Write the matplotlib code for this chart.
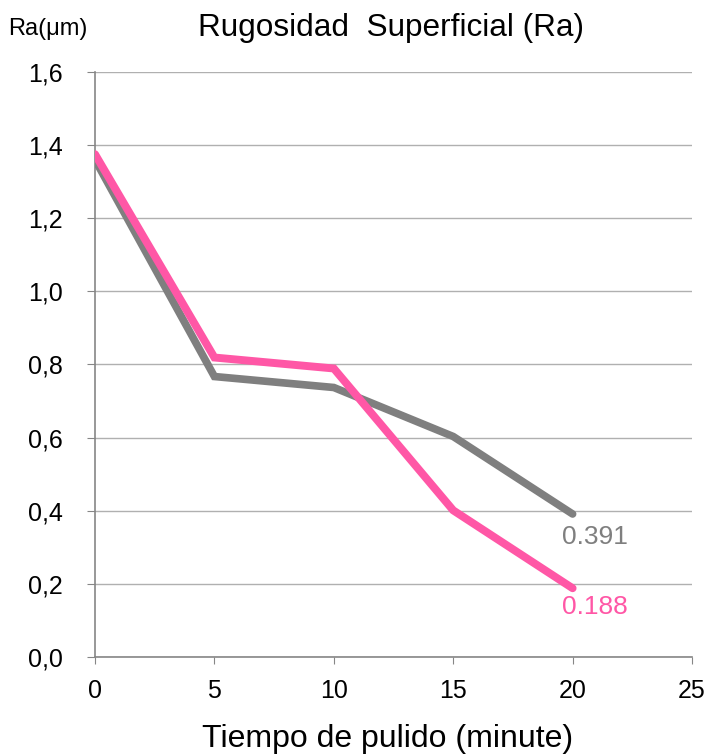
import matplotlib
matplotlib.use("Agg")
import matplotlib.pyplot as plt

plt.rcParams["font.family"] = ["Liberation Sans", "DejaVu Sans"]

tiempo = [0, 5, 10, 15, 20]
ra_gris = [1.36, 0.767, 0.737, 0.603, 0.391]
ra_rosa = [1.375, 0.819, 0.789, 0.401, 0.188]
GRIS = "#7f7f7f"; ROSA = "#ff57a6"

fig = plt.figure(figsize=(7.07, 7.56), dpi=100)
ax = fig.add_axes([0.1344, 0.131, 0.8444, 0.7738])

ax.plot(tiempo, ra_gris, color=GRIS, lw=5.5, solid_capstyle="round", solid_joinstyle="miter", zorder=3)
ax.plot(tiempo, ra_rosa, color=ROSA, lw=5.7, solid_capstyle="round", solid_joinstyle="miter", zorder=4)

ax.set_xlim(0, 25); ax.set_ylim(0, 1.6)
ax.set_xticks([0, 5, 10, 15, 20, 25])
ax.set_yticks([i * 0.2 for i in range(9)])
ax.set_yticklabels([f"{i*0.2:.1f}".replace(".", ",") for i in range(9)])
ax.grid(axis="y", color="#b0b0b0", lw=1)
ax.set_axisbelow(True)
for s in ("top", "right"):
    ax.spines[s].set_visible(False)
for s in ("left", "bottom"):
    ax.spines[s].set_color("#868686"); ax.spines[s].set_linewidth(1.2)
ax.tick_params(axis="y", length=6, color="#868686", labelsize=18, pad=17)
ax.tick_params(axis="x", length=5, color="#868686", labelsize=18, pad=11)

# etiquetas del último punto (0.391 / 0.188)
ax.annotate(f"{ra_gris[-1]:.3f}", (tiempo[-1], ra_gris[-1]), xytext=(-7.5, -21.6),
            textcoords="offset points", color=GRIS, fontsize=19, va="baseline", ha="left")
ax.annotate(f"{ra_rosa[-1]:.3f}", (tiempo[-1], ra_rosa[-1]), xytext=(-7.5, -18.5),
            textcoords="offset points", color=ROSA, fontsize=19, va="baseline", ha="left")

fig.text(0.553, 0.963, "Rugosidad  Superficial (Ra)", fontsize=22.7, ha="center", va="center")
fig.text(0.068, 0.961, "Ra(μm)", fontsize=17, ha="center", va="center")
ax.set_xlabel("Tiempo de pulido (minute)", fontsize=23)
ax.xaxis.set_label_coords(0.49, -0.154, transform=ax.transAxes)
ax.xaxis.label.set_va("baseline")

fig.savefig("out.png", dpi=100)
